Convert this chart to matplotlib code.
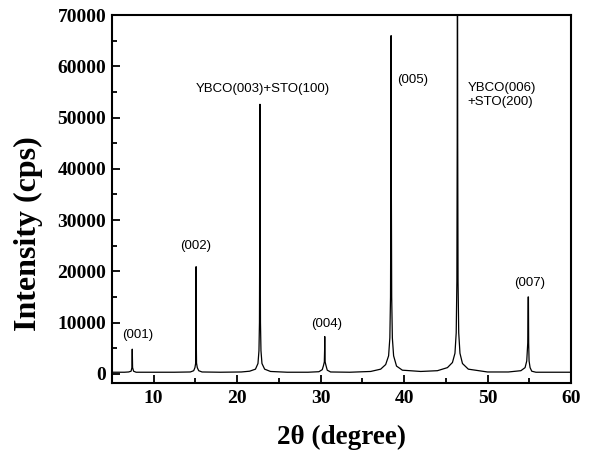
import matplotlib
matplotlib.use("Agg")
import matplotlib.pyplot as plt
from matplotlib.ticker import MultipleLocator

# ---- data (2theta in degree, intensity in cps) ----
two_theta = [
    5.0, 6.5, 7.0, 7.3, 7.40, 7.44, 7.48, 7.6, 7.9,
    10.0, 12.5, 14.4, 14.8, 14.95, 15.04, 15.08, 15.09, 15.10, 15.14, 15.23, 15.4, 15.8,
    18.0, 20.5, 21.5, 22.2, 22.5, 22.62, 22.68, 22.72, 22.74, 22.76, 22.80, 22.86, 22.98, 23.3, 24.0,
    26.0, 28.5, 29.8, 30.2, 30.35, 30.45, 30.49, 30.50, 30.51, 30.55, 30.65, 30.8, 31.2,
    33.5, 36.0, 37.2, 37.8, 38.15, 38.3, 38.38, 38.42, 38.45, 38.48, 38.52, 38.6, 38.75, 39.1, 39.8,
    42.0, 44.0, 45.2, 45.8, 46.1, 46.25, 46.33, 46.37, 46.40, 46.43, 46.47, 46.55, 46.7, 47.0, 47.7,
    50.0, 52.5, 54.0, 54.5, 54.7, 54.82, 54.87, 54.90, 54.93, 54.98, 55.1, 55.3, 55.8,
    58.0, 60.0,
]
intensity = [
    300, 300, 350, 500, 1200, 4800, 1200, 500, 300,
    300, 300, 350, 600, 1200, 2100, 8000, 20900, 8000, 2100, 1200, 600, 350,
    300, 350, 500, 900, 2000, 4500, 10000, 30000, 52600, 30000, 10000, 4500, 2000, 900, 450,
    300, 300, 400, 800, 1600, 2300, 5000, 7270, 5000, 2300, 1600, 700, 350,
    300, 450, 900, 1800, 3500, 7000, 15000, 36000, 66000, 36000, 15000, 7000, 3500, 1500, 700,
    450, 600, 1200, 2200, 4000, 8000, 18000, 45000, 95000, 45000, 18000, 8000, 4000, 2000, 900,
    350, 350, 600, 1200, 2500, 6000, 15000, 15000, 6000, 2500, 1200, 500, 300,
    300, 300,
]

peak_labels = ["(001)", "(002)", "YBCO(003)+STO(100)", "(004)", "(005)",
               "YBCO(006)\n+STO(200)", "(007)"]
label_x = [8.1, 15.05, 23.1, 30.7, 41.0, 47.6, 55.1]
label_y = [7600, 25000, 55500, 9750, 57300, 54400, 17700]
label_ha = ["center", "center", "center", "center", "center", "left", "center"]

x_ticks = [10, 20, 30, 40, 50, 60]
y_ticks = [0, 10000, 20000, 30000, 40000, 50000, 60000, 70000]

# ---- figure ----
fig = plt.figure(figsize=(5.92, 4.59), dpi=100)
ax = fig.add_axes([0.189, 0.1656, 0.7755, 0.8014])

ax.plot(two_theta, intensity, color="black", lw=0.9)

ax.set_xlim(5, 60)
ax.set_ylim(-1800, 70000)

for txt, lx, ly, ha in zip(peak_labels, label_x, label_y, label_ha):
    ax.text(lx, ly, txt, ha=ha, va="center", fontsize=9.5,
            family="Liberation Sans", linespacing=1.25)

serif_bold = dict(family="Liberation Serif", weight="bold")

ax.set_xticks(x_ticks)
ax.set_yticks(y_ticks)
ax.xaxis.set_minor_locator(MultipleLocator(5))
ax.yaxis.set_minor_locator(MultipleLocator(5000))
ax.tick_params(which="both", direction="in", top=False, right=False, width=1.3)
ax.tick_params(which="major", length=6)
ax.tick_params(which="minor", length=3.5)
ax.tick_params(axis="x", pad=5)
ax.tick_params(axis="y", pad=4)
for lab in ax.get_xticklabels() + ax.get_yticklabels():
    lab.set_fontfamily("Liberation Serif")
    lab.set_fontweight("bold")
    lab.set_fontsize(14)

for sp in ax.spines.values():
    sp.set_linewidth(1.5)

ax.set_xlabel("2θ (degree)", fontsize=19.5, va="center", **serif_bold)
ax.set_ylabel("Intensity (cps)", fontsize=23, va="center", ha="center", **serif_bold)
ax.xaxis.set_label_coords(0.5, -0.147)
ax.yaxis.set_label_coords(-0.181, 0.405)

fig.savefig("out.png", dpi=100)
